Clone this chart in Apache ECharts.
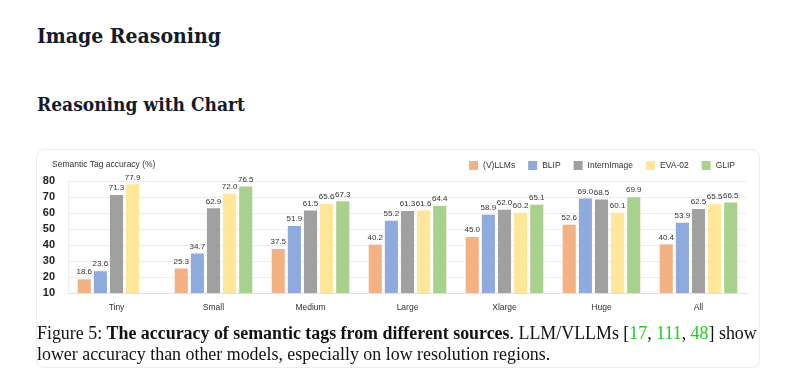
<!DOCTYPE html>
<html>
<head>
<meta charset="utf-8">
<script src="https://cdn.jsdelivr.net/npm/echarts@6/dist/echarts.min.js"></script>
<style>
  html, body { margin: 0; padding: 0; background: #fff; width: 800px; height: 382px; overflow: hidden; }
  #card { position: absolute; left: 36px; top: 149px; width: 724px; height: 219px; border: 1px solid #ececec; border-radius: 8px; box-sizing: border-box; }
  #chart { position: absolute; left: 0; top: 0; width: 800px; height: 382px; }
  .h { position: absolute; left: 37px; font-family: "DejaVu Serif", serif; font-weight: bold; color: #151a2b; white-space: nowrap; font-stretch: condensed; }
  #h1 { top: 23px; font-size: 21px; }
  #h2 { top: 93px; font-size: 19px; }
  #cap { position: absolute; left: 37px; top: 323px; width: 740px; font-family: "Liberation Serif", "Times New Roman", serif; font-size: 17.9px; line-height: 21px; color: #111; white-space: nowrap; }
  #cap .g { color: #22cc22; }
</style>
</head>
<body>
<div id="card"></div>
<div id="h1" class="h">Image Reasoning</div>
<div id="h2" class="h">Reasoning with Chart</div>
<div id="chart"></div>
<div id="cap">Figure 5: <b>The accuracy of semantic tags from different sources</b>. LLM/VLLMs [<span class="g">17</span>, <span class="g">111</span>, <span class="g">48</span>] show<br>lower accuracy than other models, especially on low resolution regions.</div>
<script>
const categories = ["Tiny", "Small", "Medium", "Large", "Xlarge", "Huge", "All"];
const seriesNames = ["(V)LLMs", "BLIP", "InternImage", "EVA-02", "GLIP"];
const vllms = [18.6, 25.3, 37.5, 40.2, 45.0, 52.6, 40.4];
const blip = [23.6, 34.7, 51.9, 55.2, 58.9, 69.0, 53.9];
const internImage = [71.3, 62.9, 61.5, 61.3, 62.0, 68.5, 62.5];
const eva02 = [77.9, 72.0, 65.6, 61.6, 60.2, 60.1, 65.5];
const glip = ['-', 76.5, 67.3, 64.4, 65.1, 69.9, 66.5];
const yTicks = [10, 20, 30, 40, 50, 60, 70, 80];
const colors = ["#F4B183", "#8FAADC", "#A0A0A0", "#FFE699", "#A9D18E"];
const values = [vllms, blip, internImage, eva02, glip];

const chart = echarts.init(document.getElementById('chart'), null, { renderer: 'canvas' });
const font = '"Liberation Sans", Arial, sans-serif';
chart.setOption({
  animation: false,
  color: colors,
  textStyle: { fontFamily: font },
  title: {
    text: 'Semantic Tag accuracy (%)',
    left: 47, top: 155,
    textStyle: { fontSize: 8.5, fontWeight: 'normal', color: '#333', fontFamily: font }
  },
  legend: {
    data: seriesNames,
    right: 60, top: 156,
    itemWidth: 9, itemHeight: 9, itemGap: 13,
    icon: 'rect',
    textStyle: { fontSize: 8.5, color: '#333', fontFamily: font }
  },
  grid: { left: 68, right: 53, top: 181, bottom: 89 },
  xAxis: {
    type: 'category',
    data: categories,
    axisLine: { show: true, lineStyle: { color: '#e0e0e0' } },
    axisTick: { show: false },
    axisLabel: { fontSize: 8.5, color: '#333', margin: 10 }
  },
  yAxis: {
    type: 'value',
    min: yTicks[0], max: yTicks[yTicks.length - 1], interval: 10,
    axisLine: { show: true, lineStyle: { color: '#eeeeee' } },
    axisTick: { show: false },
    splitLine: { lineStyle: { color: '#eeeeee' } },
    axisLabel: { fontSize: 11, fontWeight: 'bold', color: '#222', margin: 13 }
  },
  series: seriesNames.map((name, i) => ({
    name: name,
    type: 'bar',
    data: values[i],
    barGap: '23%',
    barCategoryGap: '20%',
    itemStyle: { color: colors[i] },
    label: {
      show: true, position: 'top', distance: 3,
      fontSize: 8, color: '#333',
      formatter: p => Number(p.value).toFixed(1)
    }
  }))
});
</script>
</body>
</html>
